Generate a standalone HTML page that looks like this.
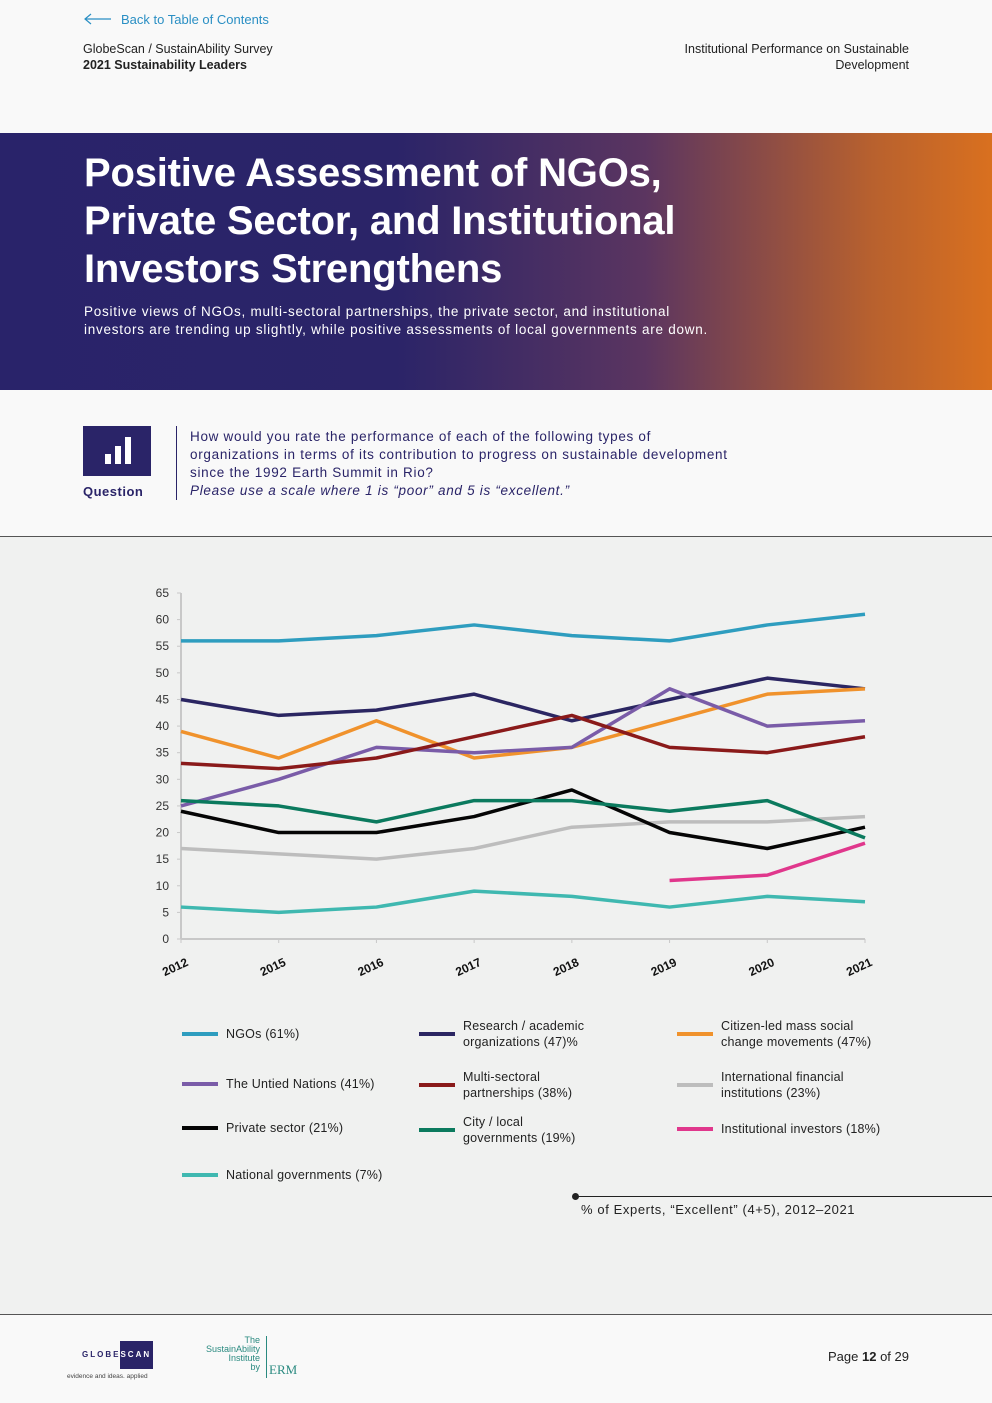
<!DOCTYPE html>
<html><head><meta charset="utf-8">
<style>
body{margin:0;width:992px;height:1403px;background:#f9f9f9;font-family:"Liberation Sans",sans-serif;position:relative;overflow:hidden;color:#222}
.abs{position:absolute}
</style></head><body>
<div class="abs" style="left:83px;top:12px;font-size:13px;color:#2a8fc4">
<svg width="30" height="12" style="vertical-align:-1px;margin-right:8px"><line x1="2" y1="6" x2="28" y2="6" stroke="#2a8fc4" stroke-width="1.2"/><polyline points="8,1 2,6 8,11" fill="none" stroke="#2a8fc4" stroke-width="1.2"/></svg>Back to Table of Contents</div>
<div class="abs" style="left:83px;top:41px;font-size:12.5px;line-height:16px">GlobeScan / SustainAbility Survey<br><b>2021 Sustainability Leaders</b></div>
<div class="abs" style="right:83px;top:41px;font-size:12.5px;line-height:16px;text-align:right">Institutional Performance on Sustainable<br>Development</div>
<div class="abs" style="left:0;top:133px;width:992px;height:257px;background:linear-gradient(90deg,#29236a 0%,#2b2468 40%,#5b3560 65%,#b8612e 88%,#d9701f 100%)">
<div class="abs" style="left:84px;top:16px;font-size:40px;font-weight:bold;color:#fff;line-height:48px;letter-spacing:-0.2px">Positive Assessment of NGOs,<br>Private Sector, and Institutional<br>Investors Strengthens</div>
<div class="abs" style="left:84px;top:170px;font-size:13.5px;color:#fff;line-height:18px;letter-spacing:0.75px">Positive views of NGOs, multi-sectoral partnerships, the private sector, and institutional<br>investors are trending up slightly, while positive assessments of local governments are down.</div>
</div>
<div class="abs" style="left:83px;top:426px;width:68px;height:50px;background:#2a2468">
<div class="abs" style="left:22px;top:28px;width:6px;height:10px;background:#fff"></div>
<div class="abs" style="left:32px;top:20px;width:6px;height:18px;background:#fff"></div>
<div class="abs" style="left:42px;top:11px;width:6px;height:27px;background:#fff"></div>
</div>
<div class="abs" style="left:83px;top:484px;font-size:13px;font-weight:bold;color:#2a2468;letter-spacing:0.5px">Question</div>
<div class="abs" style="left:176px;top:426px;width:1px;height:74px;background:#2a2468"></div>
<div class="abs" style="left:190px;top:428px;font-size:13.5px;line-height:18px;color:#2a2468;letter-spacing:0.7px">How would you rate the performance of each of the following types of<br>organizations in terms of its contribution to progress on sustainable development<br>since the 1992 Earth Summit in Rio?<br><i>Please use a scale where 1 is “poor” and 5 is “excellent.”</i></div>
<div class="abs" style="left:0;top:536px;width:992px;height:777px;background:#f0f1f0;border-top:1px solid #555;border-bottom:1px solid #555"></div>
<svg class="abs" id="chart" style="left:0;top:0" width="992" height="1000"></svg>
<div class="abs" id="legend" style="left:0;top:0"></div>
<div class="abs" style="left:575px;top:1196px;width:417px;height:1px;background:#222"></div>
<div class="abs" style="left:572px;top:1193px;width:7px;height:7px;border-radius:50%;background:#222"></div>
<div class="abs" style="left:581px;top:1202px;font-size:13px;letter-spacing:0.6px">% of Experts, “Excellent” (4+5), 2012–2021</div>
<div class="abs" style="left:66px;top:1340px;width:90px;height:44px">
<div class="abs" style="left:54px;top:1px;width:33px;height:28px;background:#2a2468"></div>
<div class="abs" style="left:16px;top:10px;font-size:8px;letter-spacing:2px;font-weight:bold;color:#2a2468">GLOBE<span style="color:#fff">SCAN</span></div>
<div class="abs" style="left:1px;top:33px;font-size:6.5px;color:#444;white-space:nowrap">evidence and ideas. applied</div>
</div>
<div class="abs" style="left:200px;top:1336px;font-size:9px;line-height:9px;text-align:right;width:60px;color:#2a8a80">The<br>SustainAbility<br>Institute<br>by</div>
<div class="abs" style="left:266px;top:1336px;width:32px;height:42px;border-left:1px solid #2a8a80;font-family:'Liberation Serif',serif;font-size:13px;color:#2a8a80;padding-top:26px;box-sizing:border-box;padding-left:2px">ERM</div>
<div class="abs" style="right:83px;top:1349px;font-size:13px">Page <b>12</b> of 29</div>
<script>
const years=['2012','2015','2016','2017','2018','2019','2020','2021'];
const yTicks=[0,5,10,15,20,25,30,35,40,45,50,55,60,65];
const ngos=[56,56,57,59,57,56,59,61];
const research=[45,42,43,46,41,45,49,47];
const citizen=[39,34,41,34,36,41,46,47];
const un=[25,30,36,35,36,47,40,41];
const multi=[33,32,34,38,42,36,35,38];
const ifi=[17,16,15,17,21,22,22,23];
const priv=[24,20,20,23,28,20,17,21];
const city=[26,25,22,26,26,24,26,19];
const instInv=[null,null,null,null,null,11,12,18];
const natGov=[6,5,6,9,8,6,8,7];
const series=[
['NGOs (61%)',ngos,'#2e9dbf','ngos'],
['Research / academic<br>organizations (47)%',research,'#2b2662','research'],
['Citizen-led mass social<br>change movements (47%)',citizen,'#f0922c','citizen'],
['The Untied Nations (41%)',un,'#7a5ca8','united-nations'],
['Multi-sectoral<br>partnerships (38%)',multi,'#8a1a1a','multi-sectoral'],
['International financial<br>institutions (23%)',ifi,'#bdbdbd','ifi'],
['Private sector (21%)',priv,'#050505','private-sector'],
['City / local<br>governments (19%)',city,'#0b7a5e','city-local'],
['Institutional investors (18%)',instInv,'#e0378c','institutional-investors'],
['National governments (7%)',natGov,'#3fb8b0','national-gov']];
const X0=181,X1=865,Y0=939,Y65=593;
const xs=i=>X0+(X1-X0)*i/(years.length-1);
const ys=v=>Y0-(Y0-Y65)*v/65;
const NS='http://www.w3.org/2000/svg',svg=document.getElementById('chart');
function mk(t,a){const e=document.createElementNS(NS,t);for(const k in a)e.setAttribute(k,a[k]);svg.appendChild(e);return e;}
const ax=mk('line',{x1:X0,y1:Y65,x2:X0,y2:Y0,stroke:'#c8c8c8','stroke-width':2});

const xa=mk('line',{x1:X0,y1:Y0,x2:X1,y2:Y0,stroke:'#c8c8c8','stroke-width':2});

yTicks.forEach(v=>{const t=mk('text',{x:X0-12,y:ys(v)+4,'text-anchor':'end','font-size':12,fill:'#333'});t.textContent=v;

mk('line',{x1:X0-4,y1:ys(v),x2:X0,y2:ys(v),stroke:'#c8c8c8','stroke-width':1});});
years.forEach((y,i)=>{const t=mk('text',{x:xs(i)+8,y:Y0+26,'text-anchor':'end','font-size':12,'font-weight':'bold',fill:'#111',transform:`rotate(-25 ${xs(i)+8} ${Y0+26})`});t.textContent=y;

mk('line',{x1:xs(i),y1:Y0,x2:xs(i),y2:Y0+4,stroke:'#c8c8c8','stroke-width':1});});
series.forEach(s=>{let p=[];s[1].forEach((v,i)=>{if(v!=null)p.push(xs(i)+','+ys(v));});
const l=mk('polyline',{points:p.join(' '),fill:'none',stroke:s[2],'stroke-width':3.5,'stroke-linejoin':'round'});
});
const lg=document.getElementById('legend');
const pos=[[182,1035],[419,1035],[677,1035],[182,1085],[419,1086],[677,1086],[182,1129],[419,1131],[677,1130],[182,1176]];
series.forEach((s,i)=>{const d=document.createElement('div');d.className='abs';
d.style.cssText=`left:${pos[i][0]}px;top:${pos[i][1]-9}px;display:flex;align-items:center;font-size:12.5px;line-height:16px;color:#222;white-space:nowrap;letter-spacing:0.2px`;
d.innerHTML=`<span style="display:inline-block;width:36px;height:4px;background:${s[2]};margin-right:8px"></span><span>${s[0]}</span>`;
if(s[0].includes('<br>'))d.style.top=(pos[i][1]-17)+'px';


lg.appendChild(d);});
</script>
</body></html>
